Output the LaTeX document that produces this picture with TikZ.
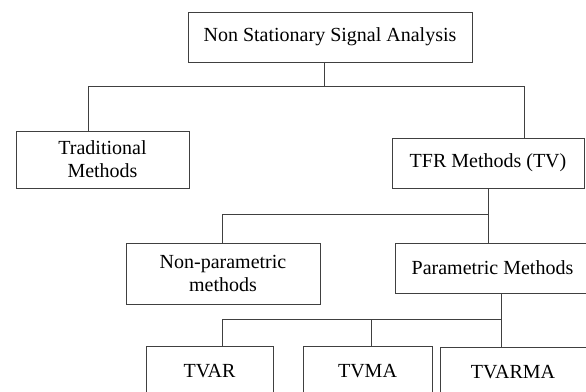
\documentclass[tikz,border=0pt]{standalone}
\usepackage{fontspec}
\setmainfont{Liberation Serif}
\tikzset{
  box/.style={draw=black!75, line width=0.9pt, fill=white, align=center,
    font=\fontsize{20}{23}\selectfont, inner sep=2pt},
  link/.style={draw=black!75, line width=0.9pt}
}
\begin{document}
\begin{tikzpicture}[x=1pt,y=-1pt]
        \useasboundingbox (0,0) rectangle (586,391);
        \clip (0,0) rectangle (586,391);
        %% boxes
        \node[box,minimum width=284pt,minimum height=50pt] (nssa) at (330,37) {Non Stationary Signal Analysis};
        \node[box,minimum width=173pt,minimum height=57pt] (trad) at (102.5,159.5) {Traditional\\Methods};
        \node[box,minimum width=192pt,minimum height=50pt] (tfr) at (488,163) {TFR Methods (TV)};
        \node[box,minimum width=194pt,minimum height=61pt] (nonpar) at (223,273.5) {Non-parametric\\methods};
        \node[box,minimum width=195pt,minimum height=50pt] (param) at (492.5,268) {Parametric Methods};
        \node[box,minimum width=127pt,minimum height=50pt] (tvar) at (209.5,371) {TVAR};
        \node[box,minimum width=129pt,minimum height=50pt] (tvma) at (367.5,371) {TVMA};
        \node[box,minimum width=146pt,minimum height=50pt] (tvarma) at (513,372) {TVARMA};
        %% junctions
        \coordinate (j0) at (324,86);
        \coordinate (j1) at (88,86);
        \coordinate (j2) at (524,86);
        \coordinate (k1) at (222,214);
        \coordinate (k2) at (488,214);
        \coordinate (m1) at (222,319);
        \coordinate (m2) at (371,319);
        \coordinate (m3) at (501,319);
        %% level 1
        \draw[link] (j0 |- nssa.south) -- (j0);
        \draw[link] (j1 |- trad.north) -- (j1) -- (j2) -- (j2 |- tfr.north);
        %% level 2
        \draw[link] (tfr.south) -- (k2 |- param.north);
        \draw[link] (k1 |- nonpar.north) -- (k1) -- (k2);
        %% level 3
        \draw[link] (m3 |- param.south) -- (m3 |- tvarma.north);
        \draw[link] (m1 |- tvar.north) -- (m1) -- (m3);
        \draw[link] (m2) -- (m2 |- tvma.north);
\end{tikzpicture}
\end{document}
